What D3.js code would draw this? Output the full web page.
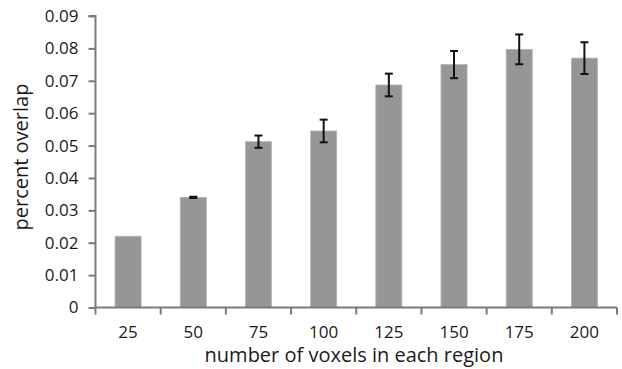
<!DOCTYPE html>
<html>
<head>
<meta charset="utf-8">
<script src="https://cdn.jsdelivr.net/npm/d3@7"></script>
<style>
  html, body { margin: 0; padding: 0; background: #fff; }
  svg { display: block; }
  text { font-family: "Open Sans", "Noto Sans", sans-serif; fill: #1a1a1a; }
</style>
</head>
<body>
<svg id="chart" width="622" height="369"></svg>
<script>
const categories = ["25", "50", "75", "100", "125", "150", "175", "200"];
const values = [0.022, 0.034, 0.0512, 0.0545, 0.0687, 0.0750, 0.0797, 0.0770];
const errors = [0, 0.0002, 0.0019, 0.0035, 0.0035, 0.0042, 0.0046, 0.0049];
const yTicks = [0, 0.01, 0.02, 0.03, 0.04, 0.05, 0.06, 0.07, 0.08, 0.09];
const yLabel = "percent overlap";
const xLabel = "number of voxels in each region";

const svg = d3.select("#chart");
const margin = { left: 95.5, right: 5, top: 16, bottom: 61 };

const x = d3.scaleBand().domain(categories).range([margin.left, 617]).paddingInner(0.6).paddingOuter(0.3);
const y = d3.scaleLinear().domain([0, 0.09]).range([307.5, 16]);

// bars
svg.append("g").selectAll("rect").data(values).join("rect")
  .attr("x", (d, i) => x(categories[i]))
  .attr("y", d => y(d))
  .attr("width", x.bandwidth())
  .attr("height", d => y(0) - y(d))
  .attr("fill", "#969696")
  .attr("stroke", "#b4b4b4")
  .attr("stroke-width", 0.8);

// error bars
const eg = svg.append("g").attr("stroke", "#111").attr("stroke-width", 2);
values.forEach((v, i) => {
  const e = errors[i];
  if (e <= 0) return;
  const cx = x(categories[i]) + x.bandwidth() / 2;
  const y1 = y(v + e), y2 = y(v - e);
  eg.append("line").attr("x1", cx).attr("x2", cx).attr("y1", y1).attr("y2", y2);
  eg.append("line").attr("x1", cx - 4).attr("x2", cx + 4).attr("y1", y1).attr("y2", y1);
  eg.append("line").attr("x1", cx - 4).attr("x2", cx + 4).attr("y1", y2).attr("y2", y2);
});

// y axis
const yAxis = d3.axisLeft(y).tickValues(yTicks)
  .tickFormat(d => d === 0 ? "0" : d3.format(".2f")(d))
  .tickSize(7).tickPadding(10);
const yg = svg.append("g").attr("transform", `translate(${margin.left},0)`).call(yAxis);
yg.select(".domain").attr("stroke", "#7a7a7a").attr("stroke-width", 2).attr("d", `M-7,${y(0.09)}H0V${y(0)}`);
yg.selectAll(".tick line").attr("stroke", "#7a7a7a").attr("stroke-width", 2);
yg.selectAll(".tick text").attr("font-size", 17).attr("fill", "#1a1a1a")
  .attr("font-family", "'Open Sans', sans-serif");

// x axis: ticks at band boundaries
const xg = svg.append("g").attr("transform", `translate(0,${y(0)})`);
const x0 = x.range()[0];
const boundaries = d3.range(categories.length + 1).map(i => x0 + i * (x.range()[1] - x0) / categories.length);
xg.append("path").attr("d", `M${x0 - 1},0H${x.range()[1]}`).attr("stroke", "#7a7a7a").attr("stroke-width", 2).attr("fill", "none");
xg.selectAll("line.tk").data(boundaries).join("line")
  .attr("class", "tk")
  .attr("x1", d => d).attr("x2", d => d).attr("y1", 0).attr("y2", 7)
  .attr("stroke", "#7a7a7a").attr("stroke-width", 2);
xg.selectAll("text").data(categories).join("text")
  .attr("x", d => x(d) + x.bandwidth() / 2)
  .attr("y", 30)
  .attr("text-anchor", "middle")
  .attr("font-size", 17)
  .text(d => d);

// axis titles
svg.append("text")
  .attr("transform", `translate(28,157) rotate(-90)`)
  .attr("text-anchor", "middle")
  .attr("font-size", 20)
  .text(yLabel);
svg.append("text")
  .attr("x", 354).attr("y", 362)
  .attr("text-anchor", "middle")
  .attr("font-size", 20)
  .text(xLabel);
</script>
</body>
</html>
